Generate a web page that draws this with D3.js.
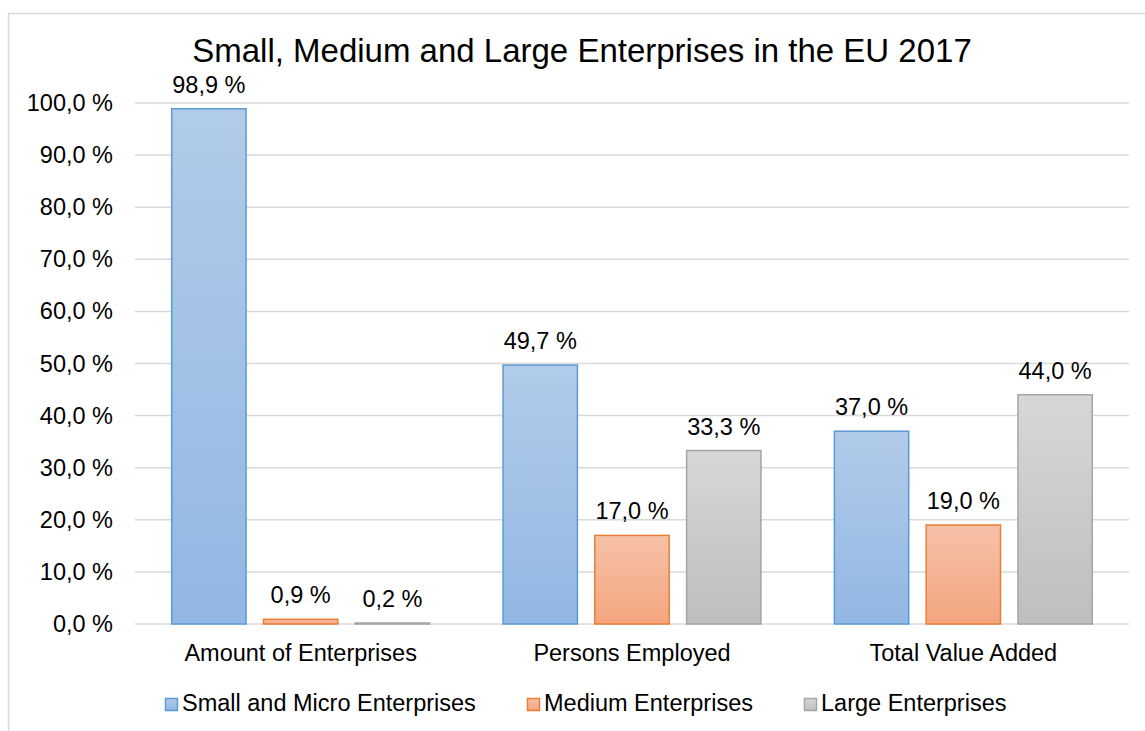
<!DOCTYPE html>
<html>
<head>
<meta charset="utf-8">
<script src="https://cdn.jsdelivr.net/npm/d3@7"></script>
<style>
  body { margin: 0; background: #fff; }
  svg { display: block; font-family: "Liberation Sans", Arial, sans-serif; }
</style>
</head>
<body>
<svg id="chart" width="1145" height="731"></svg>
<script>
var categories = ["Amount of Enterprises", "Persons Employed", "Total Value Added"];
var seriesNames = ["Small and Micro Enterprises", "Medium Enterprises", "Large Enterprises"];
var smallMicro = [98.9, 49.7, 37.0];
var medium = [0.9, 17.0, 19.0];
var large = [0.2, 33.3, 44.0];
var yTicks = [0, 10, 20, 30, 40, 50, 60, 70, 80, 90, 100];

var seriesValues = [smallMicro, medium, large];
var colors = [
  { top: "#b1cbe9", bottom: "#92b7e3", stroke: "#5b9bd5" },
  { top: "#f6c1a8", bottom: "#f4a57f", stroke: "#ed7d31" },
  { top: "#d7d7d7", bottom: "#bebebe", stroke: "#a5a5a5" }
];

var svg = d3.select("#chart");
var width = 1145, height = 731;
var plot = { left: 135, right: 1129, top: 103, bottom: 624 };
var fontSize = "23.5px";

function pct(v) {
  return d3.format(".1f")(v).replace(".", ",") + " %";
}

// outer frame
svg.append("rect")
  .attr("x", 8.5).attr("y", 13.5)
  .attr("width", 1200).attr("height", 800)
  .attr("fill", "none")
  .attr("stroke", "#d9d9d9")
  .attr("stroke-width", 1.5);

// gradients
var defs = svg.append("defs");
colors.forEach(function(c, i) {
  var g = defs.append("linearGradient")
    .attr("id", "grad" + i)
    .attr("x1", 0).attr("y1", 0).attr("x2", 0).attr("y2", 1);
  g.append("stop").attr("offset", "0%").attr("stop-color", c.top);
  g.append("stop").attr("offset", "100%").attr("stop-color", c.bottom);
});

var x0 = d3.scaleBand()
  .domain(categories)
  .range([plot.left, plot.right])
  .padding(0);

var x1 = d3.scaleBand()
  .domain(d3.range(seriesNames.length))
  .range([0, x0.bandwidth()])
  .paddingInner(0.19)
  .paddingOuter(0.4);

var y = d3.scaleLinear()
  .domain([0, 100])
  .range([plot.bottom, plot.top]);

// gridlines
svg.append("g")
  .selectAll("line")
  .data(yTicks)
  .join("line")
  .attr("x1", plot.left).attr("x2", plot.right)
  .attr("y1", d => y(d)).attr("y2", d => y(d))
  .attr("stroke", "#d9d9d9")
  .attr("stroke-width", 1.5);

// y tick labels
svg.append("g")
  .selectAll("text")
  .data(yTicks)
  .join("text")
  .attr("x", 113)
  .attr("y", d => y(d) + 8)
  .attr("text-anchor", "end")
  .style("font-size", fontSize)
  .attr("fill", "#000")
  .text(d => pct(d));

// bars
var groups = svg.append("g")
  .selectAll("g")
  .data(categories)
  .join("g")
  .attr("transform", d => "translate(" + x0(d) + ",0)");

groups.each(function(cat, ci) {
  var g = d3.select(this);
  var rows = seriesValues.map((vals, si) => ({ si: si, v: vals[ci] }));
  g.selectAll("rect")
    .data(rows)
    .join("rect")
    .attr("x", d => x1(d.si))
    .attr("y", d => y(d.v))
    .attr("width", x1.bandwidth())
    .attr("height", d => y(0) - y(d.v))
    .attr("fill", d => "url(#grad" + d.si + ")")
    .attr("stroke", d => colors[d.si].stroke)
    .attr("stroke-width", 1.5);

  g.selectAll("text")
    .data(rows)
    .join("text")
    .attr("x", d => x1(d.si) + x1.bandwidth() / 2)
    .attr("y", d => y(d.v) - 16)
    .attr("text-anchor", "middle")
    .style("font-size", fontSize)
    .attr("fill", "#000")
    .text(d => pct(d.v));
});

// category labels
svg.append("g")
  .selectAll("text")
  .data(categories)
  .join("text")
  .attr("x", d => x0(d) + x0.bandwidth() / 2)
  .attr("y", 661)
  .attr("text-anchor", "middle")
  .style("font-size", fontSize)
  .attr("fill", "#000")
  .text(d => d);

// title
svg.append("text")
  .attr("x", 582)
  .attr("y", 62)
  .attr("text-anchor", "middle")
  .style("font-size", "33px")
  .attr("fill", "#000")
  .text("Small, Medium and Large Enterprises in the EU 2017");

// legend
var legendX = [165, 527, 804];
var legend = svg.append("g")
  .selectAll("g")
  .data(seriesNames)
  .join("g")
  .attr("transform", (d, i) => "translate(" + legendX[i] + ",698)");

legend.append("rect")
  .attr("x", 0.5).attr("y", 0.5)
  .attr("width", 12).attr("height", 12)
  .attr("fill", (d, i) => "url(#grad" + i + ")")
  .attr("stroke", (d, i) => colors[i].stroke)
  .attr("stroke-width", 1.5);

legend.append("text")
  .attr("x", 17)
  .attr("y", 13)
  .style("font-size", fontSize)
  .attr("fill", "#000")
  .text(d => d);
</script>
</body>
</html>
